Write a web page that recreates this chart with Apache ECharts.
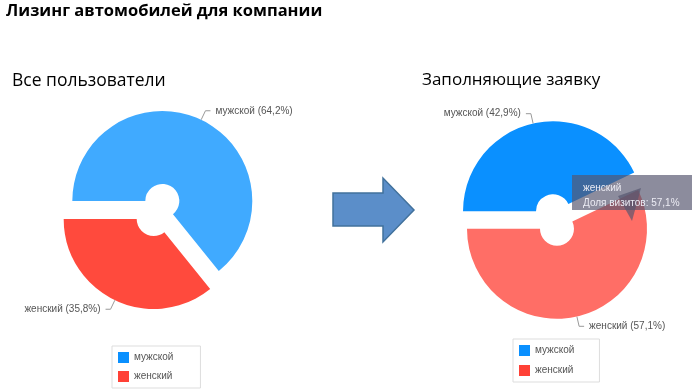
<!DOCTYPE html>
<html><head><meta charset="utf-8">
<script src="https://cdn.jsdelivr.net/npm/echarts@6/dist/echarts.min.js"></script>
<style>html,body{margin:0;padding:0;background:#fff}#c{width:700px;height:390px}</style>
</head><body><div id="c"></div>
<script>
// ---- data ----
const titleText = 'Лизинг автомобилей для компании';
const leftTitle = 'Все пользователи';
const rightTitle = 'Заполняющие заявку';
const categories = ['мужской', 'женский'];
const allUsers = [64.2, 35.8];
const applicants = [42.9, 57.1];
const tooltipMetric = 'Доля визитов';
const tooltipIndex = 1;

// ---- styles ----
const leftColors = ['#40aaff', '#ff4a3d'];
const rightColors = ['#0a90ff', '#ff6e66'];
const legendColors = ['#0a90ff', '#ff4136'];
const FONT = 'Liberation Sans';
const TFONT = 'Open Sans';

const fmt = v => v.toFixed(1).replace('.', ',');

function pie(center, values, colors, offset) {
  return {
    type: 'pie', center: center, radius: [17, 90], startAngle: 180, clockwise: true,
    selectedMode: 'multiple', selectedOffset: offset, avoidLabelOverlap: false,
    emphasis: { disabled: true },
    label: { formatter: p => `${p.name} (${fmt(p.value)}%)`, fontSize: 10, color: '#555', fontFamily: FONT },
    labelLine: { length: 10, length2: 5, lineStyle: { color: '#999', width: 1 } },
    data: categories.map((n, i) => ({ name: n, value: values[i], selected: true, itemStyle: { color: colors[i] } }))
  };
}

function legend(left, top, gap, padRight) {
  return {
    left: left, top: top, orient: 'vertical', icon: 'rect', itemWidth: 11, itemHeight: 11, itemGap: gap,
    selectedMode: false, borderColor: '#ddd', borderWidth: 1, padding: [6, padRight, 6, 6],
    textStyle: { fontSize: 10, color: '#555', fontFamily: FONT },
    data: categories.map((n, i) => ({ name: n, itemStyle: { color: legendColors[i] } }))
  };
}

const chart = echarts.init(document.getElementById('c'));
chart.setOption({
  animation: false,
  title: [
    { text: titleText, left: 6, top: 3, padding: 0, textStyle: { fontFamily: TFONT, fontSize: 16.5, fontWeight: 'bold', color: '#000' } },
    { text: leftTitle, left: 12, top: 72, padding: 0, textStyle: { fontFamily: TFONT, fontSize: 17.5, fontWeight: 'normal', color: '#000' } },
    { text: rightTitle, left: 422, top: 72, padding: 0, textStyle: { fontFamily: TFONT, fontSize: 17, fontWeight: 'normal', color: '#000' } }
  ],
  legend: [legend(112, 346, 8, 27), legend(513, 339, 9, 25)],
  series: [pie([158, 210], allUsers, leftColors, 10), pie([555, 220], applicants, rightColors, 9)],
  graphic: [
    { type: 'polygon', z: 1, shape: { points: [[333,193],[383,193],[383,178],[414,210],[383,242],[383,226],[333,226]] },
      style: { fill: '#5b8ec9', stroke: '#41719c', lineWidth: 1.5 } },
    { type: 'rect', z: 100, shape: { x: 572, y: 175, width: 120, height: 35 }, style: { fill: 'rgba(85,85,110,0.68)' } },
    { type: 'polygon', z: 100, shape: { points: [[618,196],[641,188],[632,221]] }, style: { fill: 'rgba(85,85,110,0.68)' } },
    { type: 'text', z: 101, x: 583, y: 181, style: { text: categories[tooltipIndex] + '\n' + tooltipMetric + ': ' + fmt(applicants[tooltipIndex]) + '%',
      fill: '#ececf4', font: '10px "Liberation Sans"', lineHeight: 15 } }
  ]
});
</script></body></html>
